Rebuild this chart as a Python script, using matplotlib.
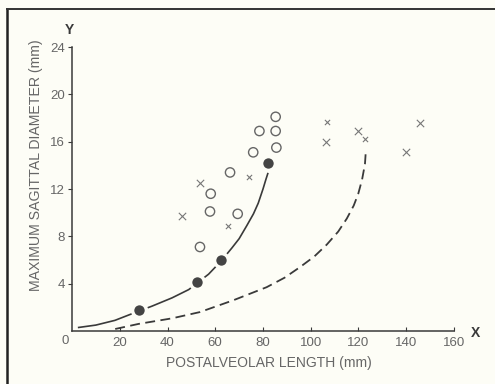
import matplotlib
matplotlib.use("Agg")
import matplotlib.pyplot as plt
from matplotlib.lines import Line2D

plt.rcParams['font.family'] = ['Liberation Sans', 'DejaVu Sans']

bg = '#fdfdf6'
ink = '#3a3a3a'
grey = '#666666'

# filled circles
filled_x = [28.1, 52.2, 62.4, 82.2]
filled_y = [1.8, 4.1, 6.0, 14.2]

# open circles
open_x = [85.3, 78.5, 85.3, 75.9, 85.6, 66.2, 58.1, 57.8, 69.4, 53.6]
open_y = [18.1, 16.9, 16.9, 15.1, 15.5, 13.4, 11.6, 10.1, 9.9, 7.1]

# crosses (large)
cross_x = [53.6, 46.2, 106.2, 119.9, 145.9, 139.9]
cross_y = [12.5, 9.7, 16.0, 16.9, 17.6, 15.1]

# crosses (small)
small_x = [74.1, 65.5, 106.7, 122.8]
small_y = [13.0, 8.9, 17.7, 16.2]

# solid curve
solid_x = [2.8, 10, 18, 25, 33.5, 41.9, 48.9, 57.2, 62.4, 66.9, 70.0, 73.2, 76.0, 78.0, 80.0, 81.2, 82.0]
solid_y = [0.3, 0.5, 0.9, 1.45, 2.1, 2.8, 3.5, 4.8, 5.9, 7.0, 7.8, 8.9, 9.9, 10.8, 12.0, 12.8, 13.3]

# dashed curve
dash_x = [18.1, 27.9, 41.9, 53.6, 67.6, 81.5, 89.0, 95.5, 101.5, 106.7, 111.5, 115.1, 118.0, 119.9, 121.5, 122.7, 123.0]
dash_y = [0.17, 0.6, 1.07, 1.6, 2.6, 3.7, 4.5, 5.4, 6.3, 7.3, 8.4, 9.5, 10.6, 11.6, 12.8, 14.1, 15.0]

xticks = [20, 40, 60, 80, 100, 120, 140, 160]
yticks = [4, 8, 12, 16, 20, 24]

fig = plt.figure(figsize=(4.95, 3.84), dpi=100, facecolor=bg)
ax = fig.add_axes([72 / 495, 53 / 384, 382 / 495, 284 / 384])
ax.set_facecolor(bg)

ax.plot(solid_x, solid_y, color=ink, lw=1.2, zorder=2)
ax.plot(dash_x, dash_y, color=ink, lw=1.3, dashes=(5.5, 3), zorder=2)

ax.scatter(filled_x, filled_y, s=100, color='#444444', edgecolors=bg, linewidths=2.5, zorder=4)
ax.scatter(open_x, open_y, s=45, facecolors='none', edgecolors=grey, linewidths=1.0, zorder=3)
ax.scatter(cross_x, cross_y, s=28, marker='x', color='#777777', linewidths=0.8, zorder=3)
ax.scatter(small_x, small_y, s=14, marker='x', color='#777777', linewidths=0.8, zorder=3)

ax.set_xlim(0, 160)
ax.set_ylim(0, 24)
for s in ['top', 'right']:
    ax.spines[s].set_visible(False)
for s in ['left', 'bottom']:
    ax.spines[s].set_color(ink)
    ax.spines[s].set_linewidth(1.1)

ax.set_xticks(xticks)
ax.set_xticklabels([str(t) for t in xticks])
ax.set_yticks(yticks)
ax.set_yticklabels([str(t) for t in yticks])
ax.tick_params(axis='x', direction='in', length=3, width=0.8, colors=ink, labelcolor=grey, labelsize=9.5, pad=4)
ax.tick_params(axis='y', direction='out', length=3, width=0.8, colors=ink, labelcolor=grey, labelsize=9.5, pad=2)

ax.text(-2.9, -0.85, '0', ha='center', va='center', color=grey, fontsize=9.5, clip_on=False)
ax.text(-1.0, 25.4, 'Y', ha='center', va='center', color=ink, fontsize=10, fontweight='bold', clip_on=False)
ax.text(169, -0.15, 'X', ha='center', va='center', color=ink, fontsize=10, fontweight='bold', clip_on=False)

ax.set_xlabel('POSTALVEOLAR LENGTH (mm)', color=grey, fontsize=10)
ax.xaxis.set_label_coords(0.515, -0.089)
ax.set_ylabel('MAXIMUM SAGITTAL DIAMETER (mm)', color=grey, fontsize=10.2)
ax.yaxis.set_label_coords(-0.077, 0.585)

# scan frame on left and top
fig.add_artist(Line2D([7 / 495, 7 / 495], [0, 1 - 9 / 384], color='#222222', lw=1.8))
fig.add_artist(Line2D([7 / 495, 1], [1 - 9 / 384, 1 - 9 / 384], color='#333333', lw=1.4))

fig.savefig('out.png', dpi=100, facecolor=bg)
